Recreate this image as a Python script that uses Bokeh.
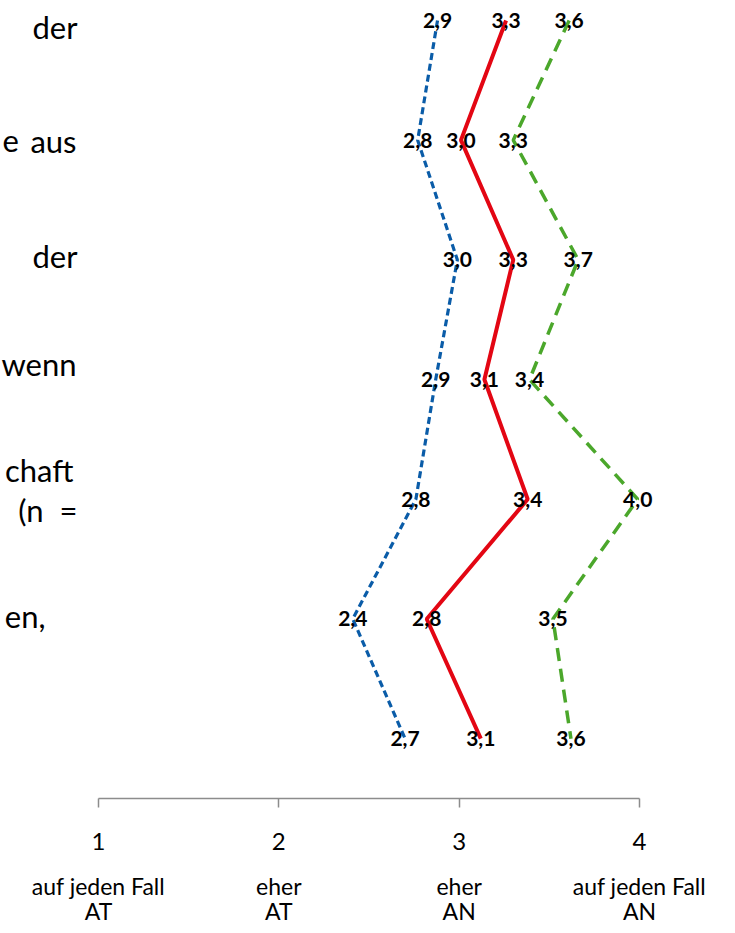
from bokeh.plotting import figure
from bokeh.models import Range1d, FixedTicker, LinearAxis, ColumnDataSource
from bokeh.core.properties import value
from bokeh.embed import file_html
from bokeh.resources import INLINE

# ---------------- data ----------------
rows = [7, 6, 5, 4, 3, 2, 1]          # category positions, top to bottom
blue = [2.88, 2.77, 2.99, 2.87, 2.76, 2.41, 2.70]
red = [3.26, 3.01, 3.30, 3.14, 3.38, 2.82, 3.12]
green = [3.61, 3.30, 3.66, 3.39, 3.99, 3.52, 3.62]

tick_values = [1, 2, 3, 4]
tick_numbers = ["1", "2", "3", "4"]
tick_words = ["auf jeden Fall\nAT", "eher\nAT", "eher\nAN", "auf jeden Fall\nAN"]

# visible fragments of the (cropped) category labels: row, text
cat_rows = [7, 6, 6, 5, 4, 3, 3, 2]
cat_texts = ["der", "e", "aus", "der", "wenn", "chaft", "(n\u00a0\u00a0=", "en,"]

# ---------------- layout ----------------
PX_PER_X = 180.33
PX_PER_Y = 119.7
FRAME_H = 798
W, H = 735, 933
x0 = 1 - 98 / PX_PER_X
x1 = 1 + (W - 98) / PX_PER_X
y0 = 0.5
y1 = 0.5 + FRAME_H / PX_PER_Y

p = figure(width=W, height=H, x_range=Range1d(x0, x1), y_range=Range1d(y0, y1),
           output_backend="svg", toolbar_location=None, y_axis_location=None,
           min_border_left=0, min_border_right=0, min_border_top=0,
           min_border_bottom=H - FRAME_H)
p.outline_line_color = None
p.grid.visible = False
p.background_fill_color = "white"
p.border_fill_color = "white"

FONT = "Lato"

def fmt(v):
    return f"{v:.1f}".replace(".", ",")

# series lines
p.line(blue, rows, line_color="#0A5CA8", line_width=3.2, line_dash="7 4")
p.line(red, rows, line_color="#E30613", line_width=4)
p.line(green, rows, line_color="#4BA72B", line_width=3.5, line_dash="13 8")

# data labels
for vals in (blue, red, green):
    src = ColumnDataSource(dict(x=vals, y=rows, t=[fmt(v) for v in vals]))
    p.text(x="x", y="y", text="t", source=src, text_align="center",
           text_baseline="middle", text_font=value(FONT), text_font_style="bold",
           text_font_size="21px", text_color="black")

# cropped category labels (baseline offsets / anchor in screen px)
dy = [7, 1, 1, -4, -16, -29, 11, -3]
dx = [-21, -96, -22, -21, -22, -25, -21, -53]
align = ["right", "left", "right", "right", "right", "right", "right", "right"]
src_c = ColumnDataSource(dict(x=[1] * len(cat_rows), y=cat_rows, t=cat_texts,
                              dx=dx, dy=dy, al=align))
p.text(x="x", y="y", text="t", source=src_c, x_offset="dx", y_offset="dy",
       text_align="al", text_baseline="alphabetic", text_font=value(FONT),
       text_font_size="31px", text_color="black")

# x axis with numbers
ax = p.xaxis[0]
ax.ticker = FixedTicker(ticks=tick_values)
ax.bounds = (1, 4)
ax.axis_line_color = "#8C8C8C"
ax.axis_line_width = 1.5
ax.major_tick_line_color = "#8C8C8C"
ax.major_tick_line_width = 1.5
ax.major_tick_in = 0
ax.major_tick_out = 9
ax.minor_tick_line_color = None
ax.major_label_standoff = 25
ax.major_label_text_font = FONT
ax.major_label_text_font_size = "24px"
ax.major_label_text_color = "black"
ax.major_label_overrides = {v: t for v, t in zip(tick_values, tick_numbers)}

# second axis row with the verbal scale
ax2 = LinearAxis(ticker=FixedTicker(ticks=tick_values), bounds=(1, 4))
ax2.axis_line_color = None
ax2.major_tick_line_color = None
ax2.minor_tick_line_color = None
ax2.major_tick_in = 0
ax2.major_tick_out = 0
ax2.major_label_standoff = 19
ax2.major_label_text_font = FONT
ax2.major_label_text_font_size = "23px"
ax2.major_label_text_color = "black"
ax2.major_label_text_line_height = 0.9
ax2.major_label_overrides = {v: t for v, t in zip(tick_values, tick_words)}
p.add_layout(ax2, "below")

open("out.html", "w").write(file_html(p, INLINE))
